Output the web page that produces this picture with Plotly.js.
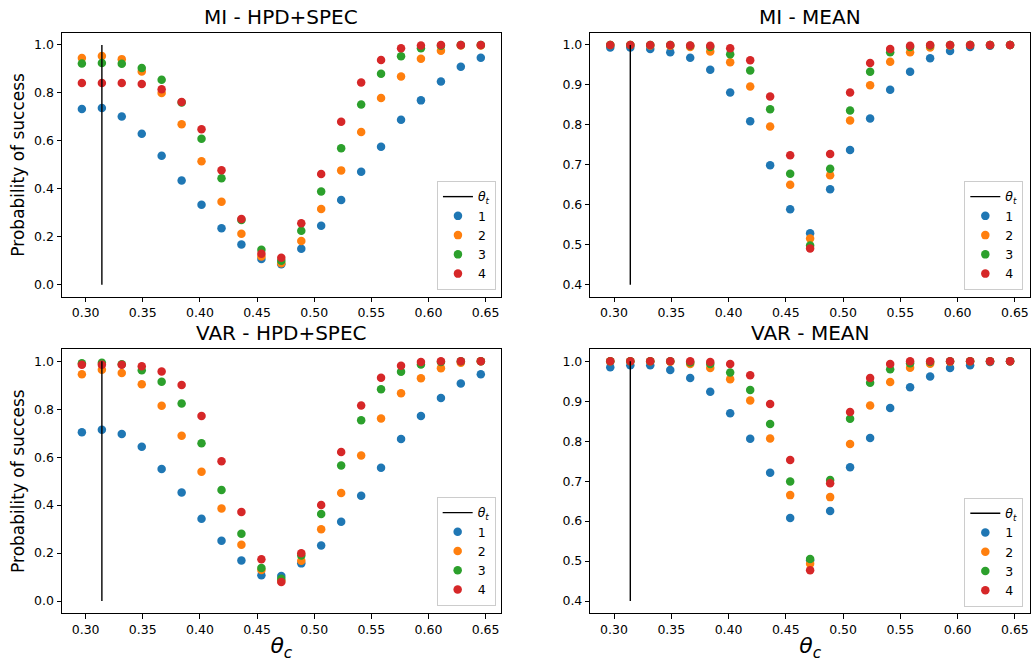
<!DOCTYPE html>
<html>
<head>
<meta charset="utf-8">
<script src="https://cdn.plot.ly/plotly-3.0.1.min.js"></script>
<style>
  html, body { margin: 0; padding: 0; background: #fff; }
  #chart { width: 1035px; height: 662px; }
</style>
</head>
<body>
<div id="chart"></div>
<script>
// Candidate angle theta_c (radians) shared by every panel
const thetaC = [0.2967, 0.3142, 0.3316, 0.3491, 0.3665, 0.3840, 0.4014, 0.4189, 0.4363, 0.4538,
                0.4712, 0.4887, 0.5061, 0.5236, 0.5411, 0.5585, 0.5760, 0.5934, 0.6109, 0.6283, 0.6458];

// True angle theta_t and the extent of its marker line in each panel type
const thetaT = 0.3142;
const thetaTSpanHPD = [0, 1];
const thetaTSpanMean = [0.4, 1];

const seriesNames = ['1', '2', '3', '4'];
const seriesColors = ['#1f77b4', '#ff7f0e', '#2ca02c', '#d62728'];

// MI - HPD+SPEC
const miHpd1 = [0.733, 0.737, 0.702, 0.630, 0.538, 0.435, 0.334, 0.236, 0.168, 0.107, 0.085, 0.150, 0.246, 0.353, 0.471, 0.576, 0.688, 0.769, 0.848, 0.909, 0.947];
const miHpd2 = [0.946, 0.954, 0.941, 0.889, 0.800, 0.669, 0.515, 0.346, 0.213, 0.118, 0.090, 0.182, 0.316, 0.477, 0.637, 0.779, 0.869, 0.943, 0.976, 0.998, 0.998];
const miHpd3 = [0.923, 0.925, 0.922, 0.904, 0.855, 0.760, 0.609, 0.444, 0.270, 0.146, 0.100, 0.225, 0.389, 0.569, 0.752, 0.880, 0.953, 0.986, 0.997, 1.000, 1.000];
const miHpd4 = [0.841, 0.841, 0.841, 0.837, 0.815, 0.762, 0.649, 0.478, 0.274, 0.129, 0.113, 0.256, 0.462, 0.680, 0.844, 0.937, 0.986, 0.998, 1.000, 1.000, 1.000];

// MI - MEAN
const miMean1 = [0.994, 0.994, 0.990, 0.982, 0.968, 0.938, 0.881, 0.809, 0.699, 0.589, 0.529, 0.639, 0.737, 0.816, 0.888, 0.933, 0.967, 0.985, 0.995, 0.998, 1.000];
const miMean2 = [1.000, 1.000, 0.999, 0.998, 0.995, 0.984, 0.957, 0.896, 0.796, 0.650, 0.516, 0.674, 0.811, 0.899, 0.958, 0.982, 0.994, 0.999, 1.000, 1.000, 1.000];
const miMean3 = [1.000, 1.000, 1.000, 1.000, 0.998, 0.995, 0.977, 0.936, 0.839, 0.678, 0.498, 0.690, 0.836, 0.933, 0.982, 0.995, 0.999, 1.000, 1.000, 1.000, 1.000];
const miMean4 = [1.000, 1.000, 1.000, 1.000, 0.999, 0.998, 0.992, 0.962, 0.871, 0.724, 0.491, 0.727, 0.881, 0.955, 0.990, 0.998, 1.000, 1.000, 1.000, 1.000, 1.000];

// VAR - HPD+SPEC
const varHpd1 = [0.704, 0.714, 0.697, 0.643, 0.551, 0.453, 0.343, 0.251, 0.169, 0.107, 0.104, 0.157, 0.232, 0.331, 0.439, 0.556, 0.676, 0.772, 0.847, 0.907, 0.946];
const varHpd2 = [0.946, 0.965, 0.951, 0.904, 0.814, 0.689, 0.539, 0.386, 0.235, 0.129, 0.085, 0.168, 0.299, 0.451, 0.607, 0.761, 0.867, 0.929, 0.971, 0.994, 1.000];
const varHpd3 = [0.992, 0.994, 0.988, 0.963, 0.915, 0.824, 0.658, 0.463, 0.281, 0.138, 0.093, 0.190, 0.363, 0.565, 0.754, 0.883, 0.956, 0.986, 0.997, 1.000, 1.000];
const varHpd4 = [0.985, 0.985, 0.985, 0.979, 0.957, 0.901, 0.772, 0.583, 0.371, 0.174, 0.079, 0.199, 0.400, 0.622, 0.815, 0.931, 0.981, 0.997, 1.000, 1.000, 1.000];

// VAR - MEAN
const varMean1 = [0.985, 0.990, 0.990, 0.978, 0.958, 0.924, 0.870, 0.806, 0.721, 0.608, 0.502, 0.625, 0.735, 0.808, 0.883, 0.935, 0.962, 0.983, 0.990, 0.998, 1.000];
const varMean2 = [1.000, 1.000, 1.000, 0.999, 0.993, 0.983, 0.955, 0.902, 0.807, 0.665, 0.493, 0.660, 0.793, 0.889, 0.948, 0.984, 0.994, 0.999, 1.000, 1.000, 1.000];
const varMean3 = [1.000, 1.000, 1.000, 1.000, 0.997, 0.993, 0.972, 0.928, 0.843, 0.699, 0.505, 0.703, 0.856, 0.946, 0.980, 0.995, 0.998, 1.000, 1.000, 1.000, 1.000];
const varMean4 = [1.000, 1.000, 1.000, 1.000, 1.000, 0.998, 0.993, 0.965, 0.893, 0.753, 0.477, 0.695, 0.873, 0.958, 0.993, 1.000, 1.000, 1.000, 1.000, 1.000, 1.000];

const xTicks = [0.30, 0.35, 0.40, 0.45, 0.50, 0.55, 0.60, 0.65];
const yTicksHPD = [0.0, 0.2, 0.4, 0.6, 0.8, 1.0];
const yTicksMean = [0.4, 0.5, 0.6, 0.7, 0.8, 0.9, 1.0];

const panels = [
  { title: 'MI - HPD+SPEC',  series: [miHpd1, miHpd2, miHpd3, miHpd4],     span: thetaTSpanHPD,  xa: 'x',  ya: 'y',  legend: 'legend'  },
  { title: 'MI - MEAN',      series: [miMean1, miMean2, miMean3, miMean4], span: thetaTSpanMean, xa: 'x2', ya: 'y2', legend: 'legend2' },
  { title: 'VAR - HPD+SPEC', series: [varHpd1, varHpd2, varHpd3, varHpd4], span: thetaTSpanHPD,  xa: 'x3', ya: 'y3', legend: 'legend3' },
  { title: 'VAR - MEAN',     series: [varMean1, varMean2, varMean3, varMean4], span: thetaTSpanMean, xa: 'x4', ya: 'y4', legend: 'legend4' }
];

const traces = [];
panels.forEach(p => {
  p.series.forEach((vals, i) => {
    traces.push({
      type: 'scatter', mode: 'markers',
      x: thetaC, y: vals,
      name: seriesNames[i],
      xaxis: p.xa, yaxis: p.ya, legend: p.legend,
      legendrank: 2 + i,
      marker: { color: seriesColors[i], size: 8.5, line: { width: 0 } },
      hoverinfo: 'x+y+name'
    });
  });
  // theta_t reference line, drawn above the markers
  traces.push({
    type: 'scatter', mode: 'lines',
    x: [thetaT, thetaT], y: p.span,
    name: '<i>θ<sub>t</sub></i>',
    xaxis: p.xa, yaxis: p.ya, legend: p.legend,
    legendrank: 1,
    line: { color: '#000000', width: 1.4 },
    hoverinfo: 'skip'
  });
});

const FONT = 'DejaVu Sans, Liberation Sans, sans-serif';

function xAxis(domain, anchor, withTitle) {
  const ax = {
    domain: domain, anchor: anchor,
    range: [0.2793, 0.6632],
    tickvals: xTicks, tickformat: '.2f',
    showline: true, linecolor: '#000', linewidth: 1, mirror: true,
    ticks: 'outside', ticklen: 4.5, tickwidth: 1, tickcolor: '#000',
    showgrid: false, zeroline: false,
    tickfont: { family: FONT, size: 12.5, color: '#000' }
  };
  if (withTitle) {
    ax.title = { text: '<i>θ<sub>c</sub></i>', font: { family: FONT, size: 22, color: '#000' }, standoff: 6 };
  }
  return ax;
}

function yAxis(domain, anchor, range, ticks, withTitle) {
  const ax = {
    domain: domain, anchor: anchor,
    range: range,
    tickvals: ticks, tickformat: '.1f',
    showline: true, linecolor: '#000', linewidth: 1, mirror: true,
    ticks: 'outside', ticklen: 4.5, tickwidth: 1, tickcolor: '#000',
    showgrid: false, zeroline: false,
    tickfont: { family: FONT, size: 12.5, color: '#000' }
  };
  if (withTitle) {
    ax.title = { text: 'Probability of success', font: { family: FONT, size: 17, color: '#000' }, standoff: 5 };
  }
  return ax;
}

function legendAt(x, y) {
  return {
    x: x, y: y, xanchor: 'right', yanchor: 'bottom',
    bgcolor: 'rgba(255,255,255,0.8)', bordercolor: '#cccccc', borderwidth: 1,
    font: { family: FONT, size: 12.5, color: '#000' },
    itemwidth: 30, traceorder: 'normal'
  };
}

const colL = [0, 0.4532], colR = [0.5458, 1];
const rowT = [0.5453, 1], rowB = [0, 0.4547];

const layout = {
  width: 1035, height: 662,
  margin: { l: 62, r: 5, t: 33, b: 49 },
  paper_bgcolor: '#fff', plot_bgcolor: '#fff',
  font: { family: FONT, size: 12.5, color: '#000' },
  showlegend: true,
  xaxis:  xAxis(colL, 'y',  false),
  yaxis:  yAxis(rowT, 'x',  [-0.05, 1.05], yTicksHPD, true),
  xaxis2: xAxis(colR, 'y2', false),
  yaxis2: yAxis(rowT, 'x2', [0.37, 1.03], yTicksMean, false),
  xaxis3: xAxis(colL, 'y3', true),
  yaxis3: yAxis(rowB, 'x3', [-0.05, 1.05], yTicksHPD, true),
  xaxis4: xAxis(colR, 'y4', true),
  yaxis4: yAxis(rowB, 'x4', [0.37, 1.03], yTicksMean, false),
  legend:  legendAt(0.4483, 0.5569),
  legend2: legendAt(0.9931, 0.5569),
  legend3: legendAt(0.4480, 0.0121),
  legend4: legendAt(0.9931, 0.0109),
  annotations: [
    { text: panels[0].title, x: (colL[0] + colL[1]) / 2, y: rowT[1] },
    { text: panels[1].title, x: (colR[0] + colR[1]) / 2, y: rowT[1] },
    { text: panels[2].title, x: (colL[0] + colL[1]) / 2, y: rowB[1] },
    { text: panels[3].title, x: (colR[0] + colR[1]) / 2, y: rowB[1] }
  ].map(a => Object.assign(a, {
    xref: 'paper', yref: 'paper', xanchor: 'center', yanchor: 'bottom',
    yshift: 2, showarrow: false,
    font: { family: FONT, size: 20, color: '#000' }
  }))
};

Plotly.newPlot('chart', traces, layout, { displayModeBar: false, staticPlot: true });
</script>
</body>
</html>
